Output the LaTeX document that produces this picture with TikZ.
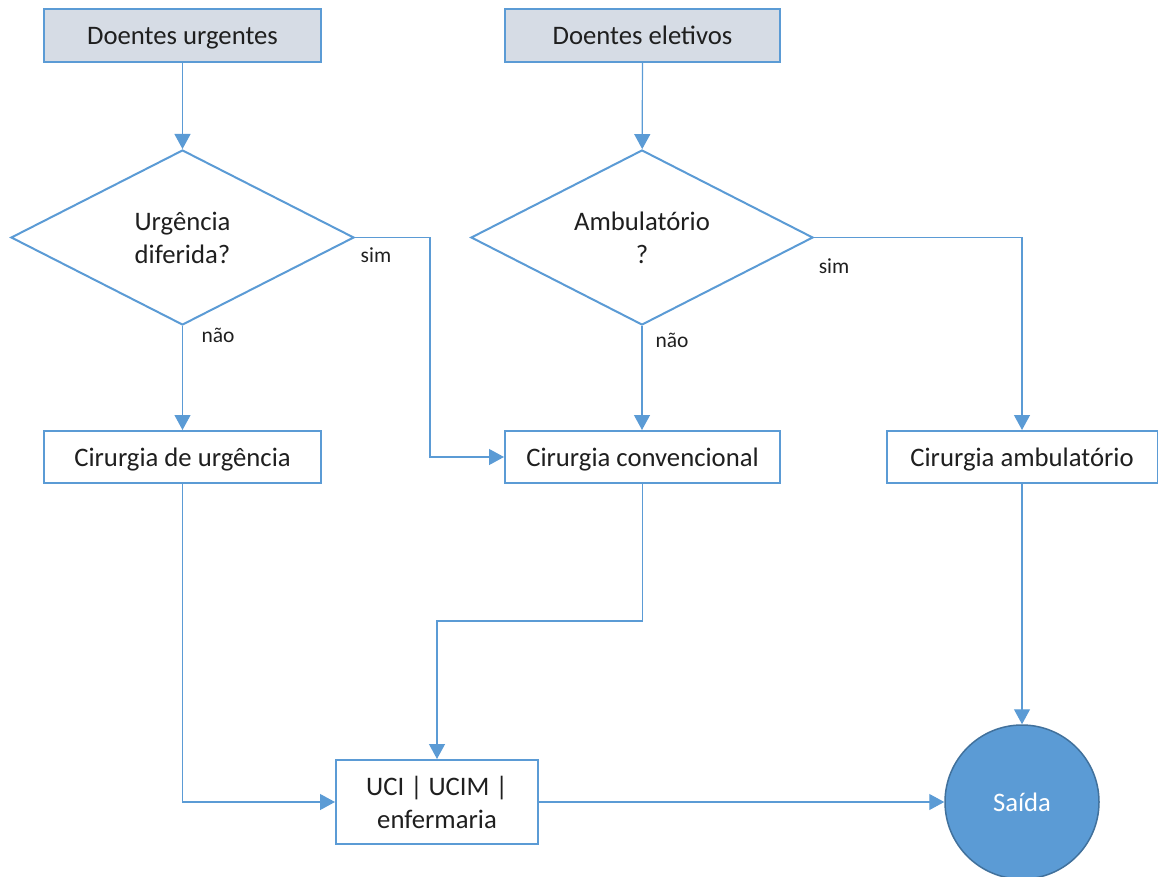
\documentclass[tikz,border=0pt]{standalone}
\usepackage{fontspec}
\setmainfont{Carlito}
\usetikzlibrary{shapes.geometric,arrows.meta}
\definecolor{flowblue}{HTML}{5B9BD5}
\definecolor{flowdark}{HTML}{41719C}
\definecolor{headfill}{HTML}{D6DCE5}
\definecolor{inktext}{HTML}{1F1F1F}
\begin{document}
\begin{tikzpicture}[x=1pt,y=-1pt,
  every node/.style={text=inktext,font=\fontsize{26.7}{33}\selectfont},
  procbox/.style={draw=flowblue,line width=2pt,fill=white,inner sep=0pt,align=center},
  linebox/.style={procbox,text height=26pt,text depth=7pt},
  headbox/.style={linebox,fill=headfill},
  decision/.style={diamond,aspect=2,draw=flowblue,line width=2pt,inner sep=0pt,align=center},
  exitnode/.style={circle,draw=flowdark,line width=1.5pt,fill=flowblue,text=white,minimum size=154pt,inner sep=0pt},
  conn/.style={draw=flowblue,line width=1.2pt,-{Triangle[length=15pt,width=16pt]}},
  lbl/.style={font=\fontsize{21.5}{24}\selectfont,inner sep=0pt}]
\useasboundingbox (0,0) rectangle (1158,877);

% entry points
\node[headbox,minimum width=277pt,minimum height=53pt] (du) at (182.5,35.5) {Doentes urgentes};
\node[headbox,minimum width=275pt,minimum height=53pt] (de) at (642.5,35.5) {Doentes eletivos};

% decisions
\node[decision,minimum width=343pt,minimum height=175pt] (d1) at (182.5,237.5) {Urgência\\diferida?};
\node[decision,minimum width=342pt,minimum height=175pt] (d2) at (642,237.5) {Ambulatório\\?};

% surgery types
\node[linebox,minimum width=277pt,minimum height=52pt] (cu) at (182.5,457) {Cirurgia de urgência};
\node[linebox,minimum width=275pt,minimum height=52pt] (cc) at (642.5,457) {Cirurgia convencional};
\node[linebox,minimum width=271pt,minimum height=52pt] (ca) at (1022,457) {Cirurgia ambulatório};

% after surgery
\node[procbox,minimum width=202pt,minimum height=84pt] (uci) at (437,802) {UCI | UCIM |\\enfermaria};
\node[exitnode] (saida) at (1022,802) {Saída};

% bend points
\coordinate (b1) at (430,237.5);
\coordinate (b2) at (642.5,621);

% connectors
\draw[conn] (du) -- (d1);
\draw[conn] (de) -- (d2);
\draw[conn] (d1.south) -- (cu.north);
\draw[conn] (d1.east) -- (b1) |- (cc.west);
\draw[conn] (d2.south) -- (d2.south |- cc.north);
\draw[conn] (d2.east) -| (ca.north);
\draw[conn] (cu.south) |- (uci.west);
\draw[conn] (cc.south) -- (b2) -| (uci.north);
\draw[conn] (ca.south) -- (saida.north);
\draw[conn] (uci.east) -- (saida.west);

% branch labels
\node[lbl] (s1) at (376,255) {sim};
\node[lbl] (n1) at (218,335) {não};
\node[lbl] (n2) at (672,340) {não};
\node[lbl] (s2) at (834,266) {sim};
\end{tikzpicture}
\end{document}
